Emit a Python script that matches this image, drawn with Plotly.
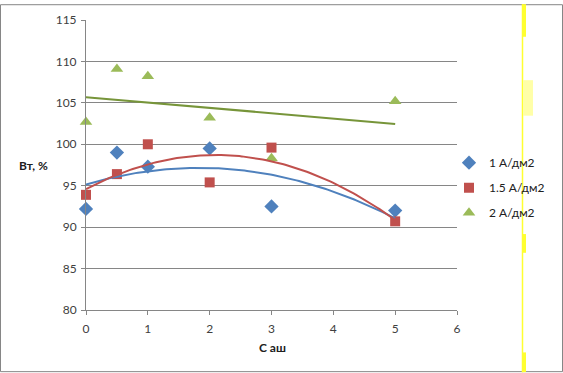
import numpy as np
import plotly.graph_objects as go

# Data
x_vals = [0, 0.5, 1, 2, 3, 5]
s1_name = "1 А/дм2"
s1_vals = [92.2, 99.0, 97.3, 99.5, 92.5, 92.0]
s2_name = "1.5 А/дм2"
s2_vals = [93.9, 96.4, 100.0, 95.4, 99.6, 90.7]
s3_name = "2 А/дм2"
s3_vals = [102.7, 109.1, 108.2, 103.2, 98.3, 105.2]

x_ticks = [0, 1, 2, 3, 4, 5, 6]
y_ticks = [80, 85, 90, 95, 100, 105, 110, 115]

W, H = 563, 373
L, R, T, B = 86, 106, 16, 63
PW, PH = W - L - R, H - T - B


def px_x(p):
    return (p - L) / PW


def px_y(p):
    return 1 - (p - T) / PH


blue, red, green = "#4F81BD", "#C0504D", "#9BBB59"
green_line = "#77953A"

fig = go.Figure()

fig.add_trace(go.Scatter(x=x_vals, y=s1_vals, mode="markers", name=s1_name, legendgroup="a",
                         cliponaxis=False,
                         marker=dict(symbol="diamond", size=11, color=blue)))
fig.add_trace(go.Scatter(x=x_vals, y=s2_vals, mode="markers", name=s2_name, legendgroup="b",
                         cliponaxis=False,
                         marker=dict(symbol="square", size=10, color=red)))
fig.add_trace(go.Scatter(x=x_vals, y=s3_vals, mode="markers", name=s3_name, legendgroup="c",
                         cliponaxis=False,
                         marker=dict(symbol="triangle-up", size=11, color=green)))

# Trendlines (fitted from the data)
xf = np.linspace(min(x_vals), max(x_vals), 120)
p1 = np.polyfit(x_vals, s1_vals, 2)
p2 = np.polyfit(x_vals, s2_vals, 2)
p3 = np.polyfit(x_vals, s3_vals, 1)
fig.add_trace(go.Scatter(x=xf, y=np.polyval(p1, xf), mode="lines", showlegend=False,
                         line=dict(color=blue, width=2), hoverinfo="skip"))
fig.add_trace(go.Scatter(x=xf, y=np.polyval(p2, xf), mode="lines", showlegend=False,
                         line=dict(color=red, width=2), hoverinfo="skip"))
fig.add_trace(go.Scatter(x=xf, y=np.polyval(p3, xf), mode="lines", showlegend=False,
                         line=dict(color=green_line, width=2), hoverinfo="skip"))

grid = "#868686"
yellow = "#FFFF30"
fig.update_layout(
    width=W, height=H,
    margin=dict(l=L, r=R, t=T, b=B),
    paper_bgcolor="white", plot_bgcolor="white",
    font=dict(family="Lato, Liberation Sans, sans-serif", size=12, color="#404040"),
    showlegend=True,
    legend=dict(x=px_x(449), y=px_y(186), xanchor="left", yanchor="middle",
                font=dict(size=12, color="#202020"), bgcolor="rgba(0,0,0,0)",
                itemwidth=30, traceorder="grouped", tracegroupgap=6),
    xaxis=dict(range=[0, 6], tickvals=x_ticks, showgrid=False, zeroline=False,
               showline=True, linecolor=grid, linewidth=1,
               ticks="outside", ticklen=4, tickcolor=grid, ticklabelstandoff=4,
               tickfont=dict(size=12, color="#404040")),
    yaxis=dict(range=[80, 115], tickvals=y_ticks, showgrid=True, gridcolor=grid,
               gridwidth=1, zeroline=False, showline=True, linecolor=grid,
               linewidth=1, ticks="outside", ticklen=4, tickcolor=grid,
               ticklabelstandoff=2,
               tickfont=dict(size=12, color="#404040")),
    annotations=[
        dict(text="<b>Вт, %</b>", xref="paper", yref="paper", x=px_x(33), y=px_y(163),
             xanchor="center", yanchor="middle",
             showarrow=False, font=dict(size=12, color="#202020")),
        dict(text="<b>С аш</b>", xref="paper", yref="paper", x=px_x(272), y=px_y(348),
             xanchor="center", yanchor="middle",
             showarrow=False, font=dict(size=12, color="#202020")),
    ],
    shapes=[
        dict(type="rect", xref="paper", yref="paper",
             x0=px_x(0.5), x1=px_x(562.5), y0=px_y(372.5), y1=px_y(0.5),
             line=dict(color="#868686", width=1)),
        dict(type="line", xref="paper", yref="paper",
             x0=px_x(522.5), x1=px_x(522.5), y0=px_y(373), y1=px_y(0),
             line=dict(color=yellow, width=1.5)),
        dict(type="rect", xref="paper", yref="paper",
             x0=px_x(522), x1=px_x(526), y0=px_y(33), y1=px_y(0),
             line=dict(width=0), fillcolor=yellow),
        dict(type="rect", xref="paper", yref="paper",
             x0=px_x(522), x1=px_x(526), y0=px_y(252), y1=px_y(233),
             line=dict(width=0), fillcolor=yellow),
        dict(type="rect", xref="paper", yref="paper",
             x0=px_x(522), x1=px_x(526), y0=px_y(373), y1=px_y(353),
             line=dict(width=0), fillcolor=yellow),
        dict(type="rect", xref="paper", yref="paper",
             x0=px_x(523), x1=px_x(533), y0=px_y(113), y1=px_y(77),
             line=dict(width=0), fillcolor="#FFFFA8"),
    ],
)

fig.write_html("out.html", config={"displayModeBar": False},
               post_script="document.body.style.margin='0';")
